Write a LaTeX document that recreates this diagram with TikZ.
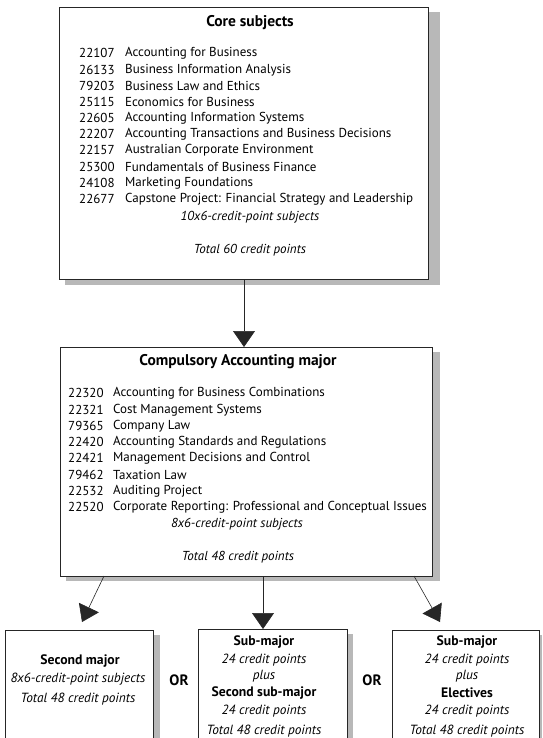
\documentclass[tikz,border=0pt]{standalone}
\usepackage{fontspec}
\setmainfont{PT Sans}
\usetikzlibrary{arrows.meta}
\begin{document}
\begin{tikzpicture}[x=1pt,y=-1pt,
  box/.style={draw=black!85, line width=0.8pt, fill=white, inner sep=0pt, anchor=north west},
  shadowfill/.style={fill=black!28},
  item/.style={anchor=west, inner sep=0pt, font=\fontsize{13}{15}\selectfont},
  ttl/.style={inner sep=0pt, font=\fontsize{15.5}{17}\selectfont\bfseries},
  itl/.style={inner sep=0pt, font=\fontsize{13}{15}\selectfont\itshape},
  sitl/.style={inner sep=0pt, font=\fontsize{13.3}{15}\selectfont\itshape},
  bld/.style={inner sep=0pt, font=\fontsize{13.7}{15}\selectfont\bfseries},
  orl/.style={inner sep=0pt, font=\fontsize{15}{17}\selectfont\bfseries},
  arr/.style={draw=black!85, line width=0.6pt, -{Triangle[length=16pt,width=22pt]}},
]
\useasboundingbox (0,0) rectangle (542,738);
\clip (0,0) rectangle (542,738);
% shadows
\fill[shadowfill] (65,12) rectangle (440,285);
\fill[shadowfill] (66,352) rectangle (440,581);
\fill[shadowfill] (10,635) rectangle (160,745);
\fill[shadowfill] (203,634) rectangle (353,745);
\fill[shadowfill] (397,635) rectangle (542,745);
% boxes
\node[box, minimum width=369pt, minimum height=272pt] (core) at (59,7) {};
\node[box, minimum width=372pt, minimum height=229pt] (acc) at (60,347) {};
\node[box, minimum width=148pt, minimum height=120pt] (left) at (5,630) {};
\node[box, minimum width=149pt, minimum height=120pt] (mid) at (198,629) {};
\node[box, minimum width=147pt, minimum height=120pt] (right) at (392,630) {};
% core subjects
\node[ttl] (t1) at (250,23) {Core subjects};
\foreach \n/\c/\t [count=\i] in {
  53/22107/Accounting for Business,
  70/26133/Business Information Analysis,
  86/79203/Business Law and Ethics,
  102/25115/Economics for Business,
  118/22605/Accounting Information Systems,
  134/22207/Accounting Transactions and Business Decisions,
  150/22157/Australian Corporate Environment,
  167/25300/Fundamentals of Business Finance,
  183/24108/Marketing Foundations,
  199/22677/{Capstone Project: Financial Strategy and Leadership}}{
  \node[item] (cn\i) at (79,\n) {\c};
  \node[item] (ct\i) at (125,\n) {\t};
}
\node[itl] (c10) at (250,217) {10x6-credit-point subjects};
\node[itl] (c60) at (250,250) {Total 60 credit points};
% accounting major
\node[ttl] (t2) at (238,362) {Compulsory Accounting major};
\foreach \n/\c/\t [count=\i] in {
  393/22320/Accounting for Business Combinations,
  410/22321/Cost Management Systems,
  426/79365/Company Law,
  442/22420/Accounting Standards and Regulations,
  458/22421/Management Decisions and Control,
  475/79462/Taxation Law,
  491/22532/Auditing Project,
  507/22520/{Corporate Reporting: Professional and Conceptual Issues}}{
  \node[item] (an\i) at (68,\n) {\c};
  \node[item] (at\i) at (113,\n) {\t};
}
\node[itl] (a8) at (237,524) {8x6-credit-point subjects};
\node[itl] (a48) at (238,557) {Total 48 credit points};
% bottom boxes
\node[bld] (l1) at (80,661) {Second major};
\node[sitl] (l2) at (78,679) {8x6-credit-point subjects};
\node[sitl] (l3) at (78,699) {Total 48 credit points};
\node[orl] (or1) at (179,680) {OR};
\node[bld] (m1) at (264,642) {Sub-major};
\node[sitl] (m2) at (264,660) {24 credit points};
\node[sitl] (m3) at (264,676) {plus};
\node[bld] (m4) at (264,693) {Second sub-major};
\node[sitl] (m5) at (264,711) {24 credit points};
\node[sitl] (m6) at (264,731) {Total 48 credit points};
\node[orl] (or2) at (372,680) {OR};
\node[bld] (r1) at (467,642) {Sub-major};
\node[sitl] (r2) at (467,660) {24 credit points};
\node[sitl] (r3) at (467,676) {plus};
\node[bld] (r4) at (467,693) {Electives};
\node[sitl] (r5) at (467,711) {24 credit points};
\node[sitl] (r6) at (467,731) {Total 48 credit points};
% connectors
\coordinate (ts) at (244,279);
\coordinate (ls) at (104,576);
\coordinate (le) at (82,622);
\coordinate (ms) at (263,576);
\coordinate (rs) at (414,576);
\coordinate (re) at (440,622);
\draw[arr] (ts) -- (ts |- acc.north);
\draw[arr] (ls) -- (le);
\draw[arr] (ms) -- (ms |- mid.north);
\draw[arr] (rs) -- (re);
\end{tikzpicture}
\end{document}
